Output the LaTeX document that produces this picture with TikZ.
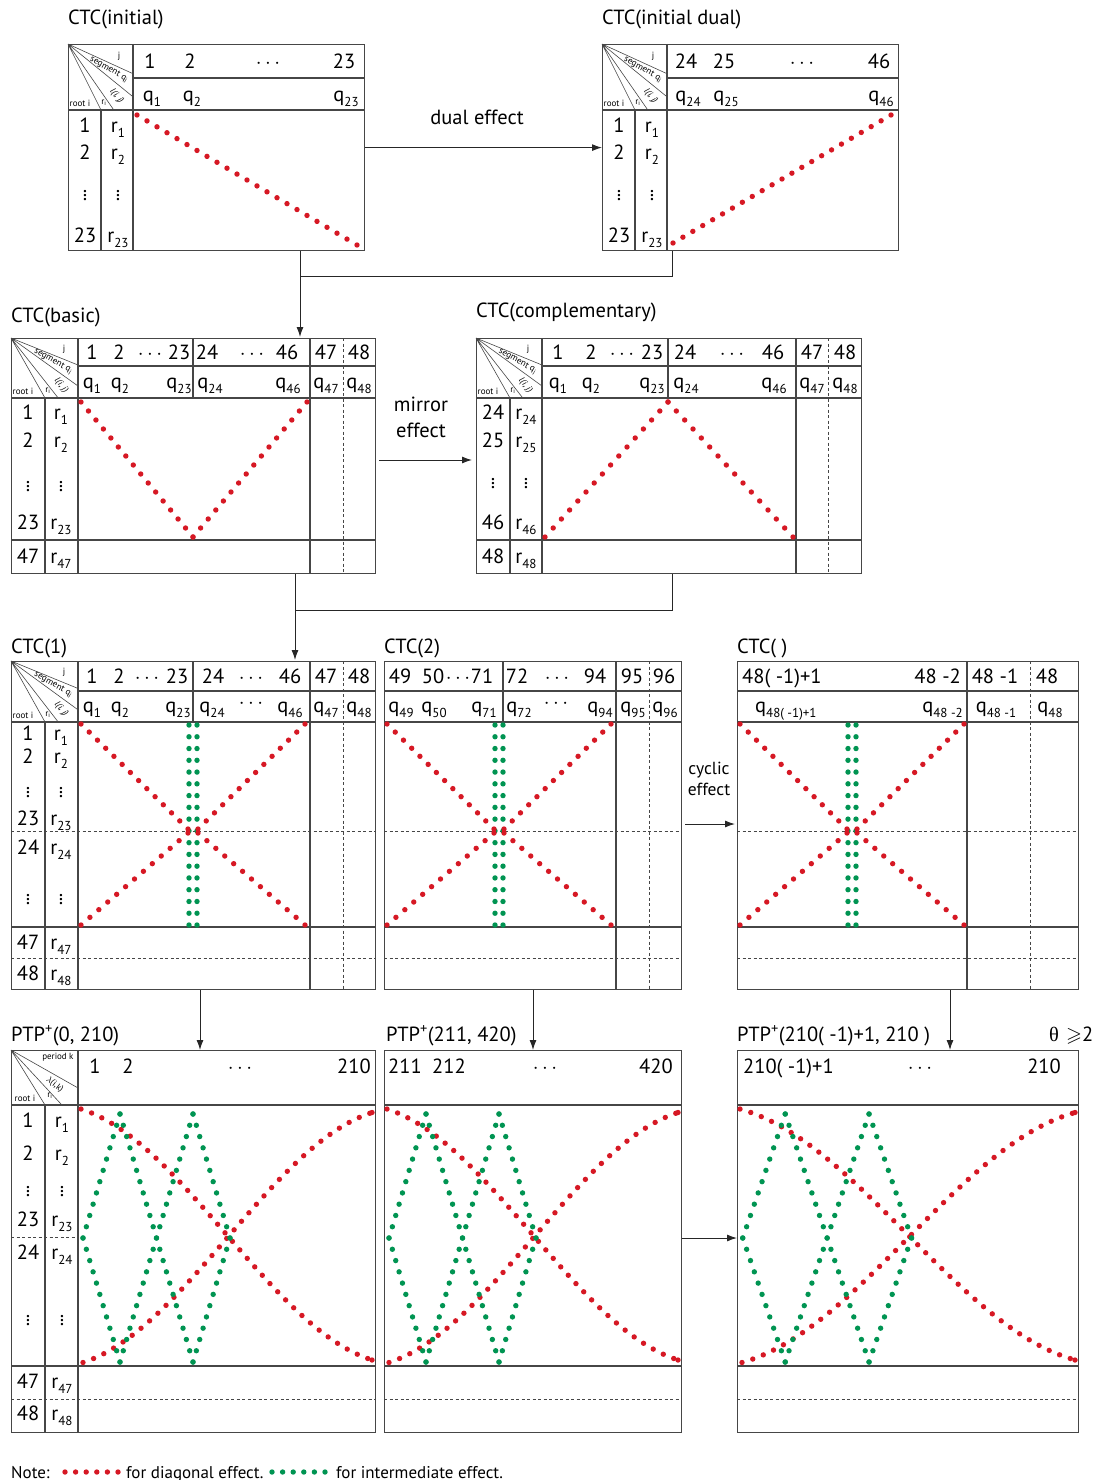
\documentclass[tikz,border=0pt]{standalone}
\usepackage{amssymb}
\usepackage{fontspec}
\setmainfont{PT Sans}
\newfontfamily\grk{Liberation Serif}
\usetikzlibrary{arrows.meta,calc}
\definecolor{dred}{RGB}{214,24,36}
\definecolor{dgreen}{RGB}{0,148,82}
\definecolor{lc}{RGB}{70,70,70}
\newcounter{lb}
\newcommand\lbl[3][]{\stepcounter{lb}\node[lab,#1] (t\arabic{lb}) at (#2) {#3};}
\newcommand\sub[1]{\raisebox{-0.55ex}{\fontsize{13}{13}\selectfont #1}}
\newcommand\dotseg[4]{\foreach \k in {0,...,#2}{\fill[#1] ($#3!\k/#2!#4$) circle (2.7pt);}}
\newcommand\rowl[5]{\lbl[anchor=base]{{#1},{#3+7}}{#4}\lbl[anchor=base]{{#2},{#3+7}}{r\sub{#5}}}
\newcommand\rowv[3]{\lbl{{#1},{#3}}{$\vdots$}\lbl{{#2},{#3}}{$\vdots$}}
\newcommand\ctccorner[5]{%
\begin{scope}[shift={(#1,#2)}]
\draw[tl1] (0,0) -- (#3,{0.45*#4}) (0,0) -- (#3,{0.8*#4}) (0,0) -- ({#5+0.4*(#3-#5)},#4) (0,0) -- (#5,#4);
\lbl[tiny]{{#3-14},{0.18*#4}}{j}
\lbl[tiny,rotate=-29]{{0.63*#3},{0.39*#4}}{segment q\textsubscript{j}}
\lbl[tiny,rotate=-50]{{0.75*#3},{0.79*#4}}{\itshape l(i, j)}
\lbl[tiny]{{#5+3},{#4-7}}{r\textsubscript{i}}
\lbl[tiny]{{12},{#4-7}}{root i}
\end{scope}}
\newcommand\ptpcorner[5]{%
\begin{scope}[shift={(#1,#2)}]
\draw[tl1] (0,0) -- (#3,{0.69*#4}) (0,0) -- ({0.76*#3},#4) (0,0) -- (#5,#4);
\lbl[tiny]{{0.7*#3},{0.14*#4}}{period k}
\lbl[tiny,rotate=-38]{{0.65*#3},{0.63*#4}}{$\lambda$(i,k)}
\lbl[tiny]{{14},{#4-7}}{root i}
\lbl[tiny]{{#5+5},{#4-9}}{r\textsubscript{i}}
\end{scope}}
\newcommand\ctcx[1]{%
\dotseg{dgreen}{17}{({#1+111},725)}{({#1+111},925)}
\dotseg{dgreen}{17}{({#1+119},725)}{({#1+119},925)}
\dotseg{dred}{13}{({#1+3},724)}{({#1+110},829)}
\dotseg{dred}{13}{({#1+227},724)}{({#1+120},829)}
\dotseg{dred}{12}{({#1+110},833)}{({#1+3},925)}
\dotseg{dred}{12}{({#1+120},833)}{({#1+227},925)}}
\newcommand\ptpred[2]{%
\draw[dred,line width=5.4pt,line cap=round,dash pattern=on 0pt off 11.3pt]
 plot[smooth,variable=\t,domain=0:1,samples=41] ({#1+3+(#2-6)*\t},{1234.5+125.5*sin(73.9*(2*\t-1))/sin(73.9)});
\draw[dred,line width=5.4pt,line cap=round,dash pattern=on 0pt off 11.3pt]
 plot[smooth,variable=\t,domain=0:1,samples=41] ({#1+5+(#2-8)*\t},{1237.5-125*sin(73.9*(2*\t-1))/sin(73.9)});
\fill[dred] ({#1+#2-3},1360) circle (2.7pt) ({#1+#2-3},1112.5) circle (2.7pt);}
\newcommand\ptpgreen[2]{%
\pgfmathsetmacro\gxa{#1+#2*(42/297)}\pgfmathsetmacro\gxb{#1+#2*(115/297)}%
\pgfmathsetmacro\gxl{#1+#2*(5/297)}\pgfmathsetmacro\gxr{#1+#2*(152/297)}%
\dotseg{dgreen}{11}{(\gxa,1114)}{(\gxl,1238)}
\dotseg{dgreen}{11}{(\gxl,1238)}{(\gxa,1362)}
\dotseg{dgreen}{22}{(\gxa,1114)}{(\gxb,1362)}
\dotseg{dgreen}{22}{(\gxb,1114)}{(\gxa,1362)}
\dotseg{dgreen}{11}{(\gxb,1114)}{(\gxr,1238)}
\dotseg{dgreen}{11}{(\gxr,1238)}{(\gxb,1362)}}
\begin{document}
\begin{tikzpicture}[x=1pt,y=-1pt,
 lab/.style={inner sep=0pt,font=\fontsize{20.5}{22}\selectfont},
 tiny/.style={inner sep=0pt,font=\fontsize{9}{10}\selectfont},
 mid/.style={inner sep=0pt,font=\fontsize{17.5}{19}\selectfont},
 note/.style={inner sep=0pt,font=\fontsize{17}{19}\selectfont},
 tbox/.style={draw=lc,line width=1.2pt,inner sep=0pt,anchor=north west},
 tl/.style={draw=lc,line width=1.2pt},
 tl1/.style={draw=lc,line width=0.6pt},
 dl/.style={draw=lc,line width=0.9pt,dash pattern=on 3pt off 2.5pt},
 ln/.style={draw=black!85,line width=1pt},
 arr/.style={draw=black!85,line width=1pt,-{Latex[length=10pt,width=7pt]}}]
\useasboundingbox (0,0) rectangle (1106,1480);

% ---------------- CTC(initial)
\lbl[anchor=base west]{68,25}{CTC(initial)}
\node[tbox,minimum width=296pt,minimum height=206pt] (ini) at (68,44) {};
\draw[tl] (133,78) -- (364,78) (68,110) -- (364,110) (101,110) -- (101,250) (133,44) -- (133,250);
\ctccorner{68}{44}{65}{66}{33}
\lbl[anchor=base]{150,68}{1}\lbl[anchor=base]{190,68}{2}\lbl[anchor=base]{268,68}{$\cdots$}\lbl[anchor=base]{344,68}{23}
\lbl[anchor=base]{152,101}{q\sub{1}}\lbl[anchor=base]{192,101}{q\sub{2}}\lbl[anchor=base]{346,101}{q\sub{23}}
\rowl{85}{118}{125}{1}{1}\rowl{85}{118}{152}{2}{2}\rowv{85}{118}{193}\rowl{85}{118}{235}{23}{23}
\dotseg{dred}{22}{(137,115)}{(357,245)}

% ---------------- CTC(initial dual)
\lbl[anchor=base west]{602,25}{CTC(initial dual)}
\node[tbox,minimum width=296pt,minimum height=206pt] (dual) at (602,44) {};
\draw[tl] (667,78) -- (898,78) (602,110) -- (898,110) (635,110) -- (635,250) (667,44) -- (667,250);
\ctccorner{602}{44}{65}{66}{33}
\lbl[anchor=base]{686,68}{24}\lbl[anchor=base]{724,68}{25}\lbl[anchor=base]{802,68}{$\cdots$}\lbl[anchor=base]{879,68}{46}
\lbl[anchor=base]{688,101}{q\sub{24}}\lbl[anchor=base]{726,101}{q\sub{25}}\lbl[anchor=base]{881,101}{q\sub{46}}
\rowl{619}{652}{125}{1}{1}\rowl{619}{652}{152}{2}{2}\rowv{619}{652}{193}\rowl{619}{652}{235}{23}{23}
\dotseg{dred}{22}{(673,243)}{(891,115)}

% ---------------- CTC(basic)
\lbl[anchor=base west]{11,322}{CTC(basic)}
\node[tbox,minimum width=364pt,minimum height=235pt] (basic) at (11,338) {};
\draw[tl] (78,366) -- (375,366) (11,398) -- (375,398) (45,398) -- (45,573) (78,338) -- (78,573) (193,338) -- (193,398) (310,338) -- (310,573) (11,540) -- (375,540);
\draw[dl] (343,338) -- (343,573);
\ctccorner{11}{338}{67}{60}{34}
\lbl[anchor=base]{92,359}{1}\lbl[anchor=base]{119,359}{2}\lbl[anchor=base]{150,359}{$\cdots$}\lbl[anchor=base]{179,359}{23}\lbl[anchor=base]{207,359}{24}\lbl[anchor=base]{252,359}{$\cdots$}\lbl[anchor=base]{287,359}{46}\lbl[anchor=base]{326,359}{47}\lbl[anchor=base]{359,359}{48}
\lbl[anchor=base]{92,388}{q\sub{1}}\lbl[anchor=base]{120,388}{q\sub{2}}\lbl[anchor=base]{179,388}{q\sub{23}}\lbl[anchor=base]{210,388}{q\sub{24}}\lbl[anchor=base]{288,388}{q\sub{46}}\lbl[anchor=base]{326,388}{q\sub{47}}\lbl[anchor=base]{359,388}{q\sub{48}}
\rowl{28}{61}{412}{1}{1}\rowl{28}{61}{440}{2}{2}\rowv{28}{61}{484}\rowl{28}{61}{522}{23}{23}\rowl{28}{61}{556}{47}{47}
\dotseg{dred}{15}{(81,402)}{(193,537)}\dotseg{dred}{15}{(193,537)}{(307,402)}

% ---------------- CTC(complementary)
\lbl[anchor=base west]{476,317}{CTC(complementary)}
\node[tbox,minimum width=385pt,minimum height=235pt] (compl) at (476,338) {};
\draw[tl] (542,366) -- (861,366) (476,398) -- (861,398) (510,398) -- (510,573) (542,338) -- (542,573) (668,338) -- (668,398) (796,338) -- (796,573) (476,540) -- (861,540);
\draw[dl] (828,338) -- (828,573);
\ctccorner{476}{338}{66}{60}{34}
\lbl[anchor=base]{558,359}{1}\lbl[anchor=base]{591,359}{2}\lbl[anchor=base]{622,359}{$\cdots$}\lbl[anchor=base]{652,359}{23}\lbl[anchor=base]{685,359}{24}\lbl[anchor=base]{732,359}{$\cdots$}\lbl[anchor=base]{773,359}{46}\lbl[anchor=base]{812,359}{47}\lbl[anchor=base]{845,359}{48}
\lbl[anchor=base]{558,388}{q\sub{1}}\lbl[anchor=base]{591,388}{q\sub{2}}\lbl[anchor=base]{652,388}{q\sub{23}}\lbl[anchor=base]{686,388}{q\sub{24}}\lbl[anchor=base]{774,388}{q\sub{46}}\lbl[anchor=base]{812,388}{q\sub{47}}\lbl[anchor=base]{845,388}{q\sub{48}}
\rowl{493}{526}{412}{24}{24}\rowl{493}{526}{440}{25}{25}\rowv{493}{526}{481}\rowl{493}{526}{522}{46}{46}\rowl{493}{526}{556}{48}{48}
\dotseg{dred}{15}{(545,537)}{(668,402)}\dotseg{dred}{15}{(668,402)}{(793,537)}

% ---------------- CTC(1)
\lbl[anchor=base west]{11,653}{CTC(1)}
\node[tbox,minimum width=364pt,minimum height=328pt] (ctc1) at (11,661) {};
\draw[tl] (78,691) -- (375,691) (11,722) -- (375,722) (45,722) -- (45,989) (78,661) -- (78,989) (193,661) -- (193,722) (310,661) -- (310,989) (11,927) -- (375,927);
\draw[dl] (343,661) -- (343,989) (11,831) -- (375,831) (11,958) -- (375,958);
\ctccorner{11}{661}{67}{61}{34}
\lbl[anchor=base]{92,683}{1}\lbl[anchor=base]{119,683}{2}\lbl[anchor=base]{147,683}{$\cdots$}\lbl[anchor=base]{177,683}{23}\lbl[anchor=base]{213,683}{24}\lbl[anchor=base]{251,683}{$\cdots$}\lbl[anchor=base]{290,683}{46}\lbl[anchor=base]{326,683}{47}\lbl[anchor=base]{359,683}{48}
\lbl[anchor=base]{92,712}{q\sub{1}}\lbl[anchor=base]{120,712}{q\sub{2}}\lbl[anchor=base]{178,712}{q\sub{23}}\lbl[anchor=base]{212,712}{q\sub{24}}\lbl[anchor=base]{251,708}{$\cdots$}\lbl[anchor=base]{290,712}{q\sub{46}}\lbl[anchor=base]{326,712}{q\sub{47}}\lbl[anchor=base]{359,712}{q\sub{48}}
\rowl{28}{61}{733}{1}{1}\rowl{28}{61}{756}{2}{2}\rowv{28}{61}{790}\rowl{28}{61}{818}{23}{23}\rowl{28}{61}{847}{24}{24}\rowv{28}{61}{897}\rowl{28}{61}{942}{47}{47}\rowl{28}{61}{973}{48}{48}
\ctcx{78}

% ---------------- CTC(2)
\lbl[anchor=base west]{384,653}{CTC(2)}
\node[tbox,minimum width=297pt,minimum height=328pt] (ctc2) at (384,661) {};
\draw[tl] (384,691) -- (681,691) (384,722) -- (681,722) (503,661) -- (503,722) (616,661) -- (616,989) (384,927) -- (681,927);
\draw[dl] (649,661) -- (649,989) (384,831) -- (681,831) (384,958) -- (681,958);
\lbl[anchor=base]{400,683}{49}\lbl[anchor=base]{433,683}{50}\lbl[anchor=base]{458,683}{$\cdots$}\lbl[anchor=base]{482,683}{71}\lbl[anchor=base]{517,683}{72}\lbl[anchor=base]{557,683}{$\cdots$}\lbl[anchor=base]{595,683}{94}\lbl[anchor=base]{632,683}{95}\lbl[anchor=base]{664,683}{96}
\lbl[anchor=base]{401,712}{q\sub{49}}\lbl[anchor=base]{434,712}{q\sub{50}}\lbl[anchor=base]{484,712}{q\sub{71}}\lbl[anchor=base]{519,712}{q\sub{72}}\lbl[anchor=base]{556,708}{$\cdots$}\lbl[anchor=base]{600,712}{q\sub{94}}\lbl[anchor=base]{633,712}{q\sub{95}}\lbl[anchor=base]{665,712}{q\sub{96}}
\ctcx{384}

% ---------------- CTC( )
\lbl[anchor=base west]{737,653}{CTC( )}
\node[tbox,minimum width=341pt,minimum height=328pt] (ctct) at (737,661) {};
\draw[tl] (737,691) -- (1078,691) (737,722) -- (1078,722) (967,661) -- (967,989) (737,927) -- (1078,927);
\draw[dl] (1030,661) -- (1030,989) (737,831) -- (1078,831) (737,958) -- (1078,958);
\lbl[anchor=base west]{742,683}{48( -1)+1}\lbl[anchor=base east]{961,683}{48 -2}\lbl[anchor=base]{995,683}{48 -1}\lbl[anchor=base]{1047,683}{48}
\lbl[anchor=base west]{755,712}{q\sub{48( -1)+1}}\lbl[anchor=base east]{963,712}{q\sub{48 -2}}\lbl[anchor=base]{996,712}{q\sub{48 -1}}\lbl[anchor=base]{1050,712}{q\sub{48}}
\ctcx{737}

% ---------------- PTP1
\lbl[anchor=base west]{11,1041}{PTP\textsuperscript{+}(0, 210)}
\node[tbox,minimum width=364pt,minimum height=382pt] (ptp1) at (11,1050) {};
\draw[tl] (11,1105) -- (375,1105) (45,1105) -- (45,1432) (78,1050) -- (78,1432) (11,1366) -- (375,1366);
\draw[dl] (11,1237) -- (78,1237) (11,1399) -- (375,1399);
\ptpcorner{11}{1050}{67}{55}{34}
\lbl[anchor=base]{95,1073}{1}\lbl[anchor=base]{128,1073}{2}\lbl[anchor=base]{240,1073}{$\cdots$}\lbl[anchor=base]{354,1073}{210}
\rowl{28}{62}{1120}{1}{1}\rowl{28}{62}{1153}{2}{2}\rowv{28}{62}{1189}\rowl{28}{62}{1219}{23}{23}\rowl{28}{62}{1252}{24}{24}\rowv{28}{62}{1318}\rowl{28}{62}{1381}{47}{47}\rowl{28}{62}{1413}{48}{48}
\ptpred{78}{297}
\ptpgreen{78}{297}

% ---------------- PTP2
\lbl[anchor=base west]{386,1041}{PTP\textsuperscript{+}(211, 420)}
\node[tbox,minimum width=297pt,minimum height=382pt] (ptp2) at (384,1050) {};
\draw[tl] (384,1105) -- (681,1105) (384,1366) -- (681,1366);
\draw[dl] (384,1399) -- (681,1399);
\lbl[anchor=base]{405,1073}{211}\lbl[anchor=base]{449,1073}{212}\lbl[anchor=base]{545,1073}{$\cdots$}\lbl[anchor=base]{656,1073}{420}
\ptpred{384}{297}
\ptpgreen{384}{297}

% ---------------- PTP3
\lbl[anchor=base west]{737,1041}{PTP\textsuperscript{+}(210( -1)+1, 210 )}
\lbl[anchor=base]{1054,1041}{\grk θ}
\lbl[anchor=base west]{1066,1041}{$\geqslant$2}
\node[tbox,minimum width=341pt,minimum height=382pt] (ptp3) at (737,1050) {};
\draw[tl] (737,1105) -- (1078,1105) (737,1366) -- (1078,1366);
\draw[dl] (737,1399) -- (1078,1399);
\lbl[anchor=base west]{743,1073}{210( -1)+1}\lbl[anchor=base]{920,1073}{$\cdots$}\lbl[anchor=base]{1044,1073}{210}
\ptpred{737}{341}
\ptpgreen{737}{341}

% ---------------- connectors
\lbl[anchor=base]{477,124}{dual effect}
\draw[arr] (ini.east) -- (dual.west);
\coordinate (c1) at (300,276);
\coordinate (c2) at (672,276);
\draw[ln] (c2 |- dual.south) -- (c2) -- (c1);
\draw[ln] (c1 |- ini.south) -- (c1);
\draw[arr,shorten >=1pt] (c1) -- (c1 |- basic.north);
\lbl[anchor=base]{421,411}{mirror}
\lbl[anchor=base]{421,437}{effect}
\coordinate (mA) at (0,460);
\draw[arr,shorten <=3pt,shorten >=4pt] (basic.east |- mA) -- (compl.west |- mA);
\coordinate (c3) at (295,610);
\coordinate (c4) at (672,610);
\draw[ln] (c4 |- compl.south) -- (c4) -- (c3);
\draw[ln] (c3 |- basic.south) -- (c3);
\draw[arr,shorten >=1pt] (c3) -- (c3 |- ctc1.north);
\lbl[mid,anchor=base]{709,774}{cyclic}
\lbl[mid,anchor=base]{709,795}{effect}
\coordinate (cy) at (0,824);
\draw[arr,shorten <=3pt,shorten >=2pt] (ctc2.east |- cy) -- (ctct.west |- cy);
\coordinate (d1) at (200,0);
\coordinate (d2) at (533,0);
\coordinate (d3) at (950,0);
\draw[arr] (d1 |- ctc1.south) -- (d1 |- ptp1.north);
\draw[arr] (d2 |- ctc2.south) -- (d2 |- ptp2.north);
\draw[arr] (d3 |- ctct.south) -- (d3 |- ptp3.north);
\coordinate (pp) at (0,1238);
\draw[arr] (ptp2.east |- pp) -- (ptp3.west |- pp);

% ---------------- note
\lbl[note,anchor=base west]{11,1478}{Note:}
\foreach \k in {0,...,5}{\fill[dred] ({65+10.6*\k},1472) circle (2.7pt);}
\lbl[note,anchor=base west]{126,1478}{for diagonal effect.}
\foreach \k in {0,...,5}{\fill[dgreen] ({272+10.6*\k},1472) circle (2.7pt);}
\lbl[note,anchor=base west]{336,1478}{for intermediate effect.}
\end{tikzpicture}
\end{document}
